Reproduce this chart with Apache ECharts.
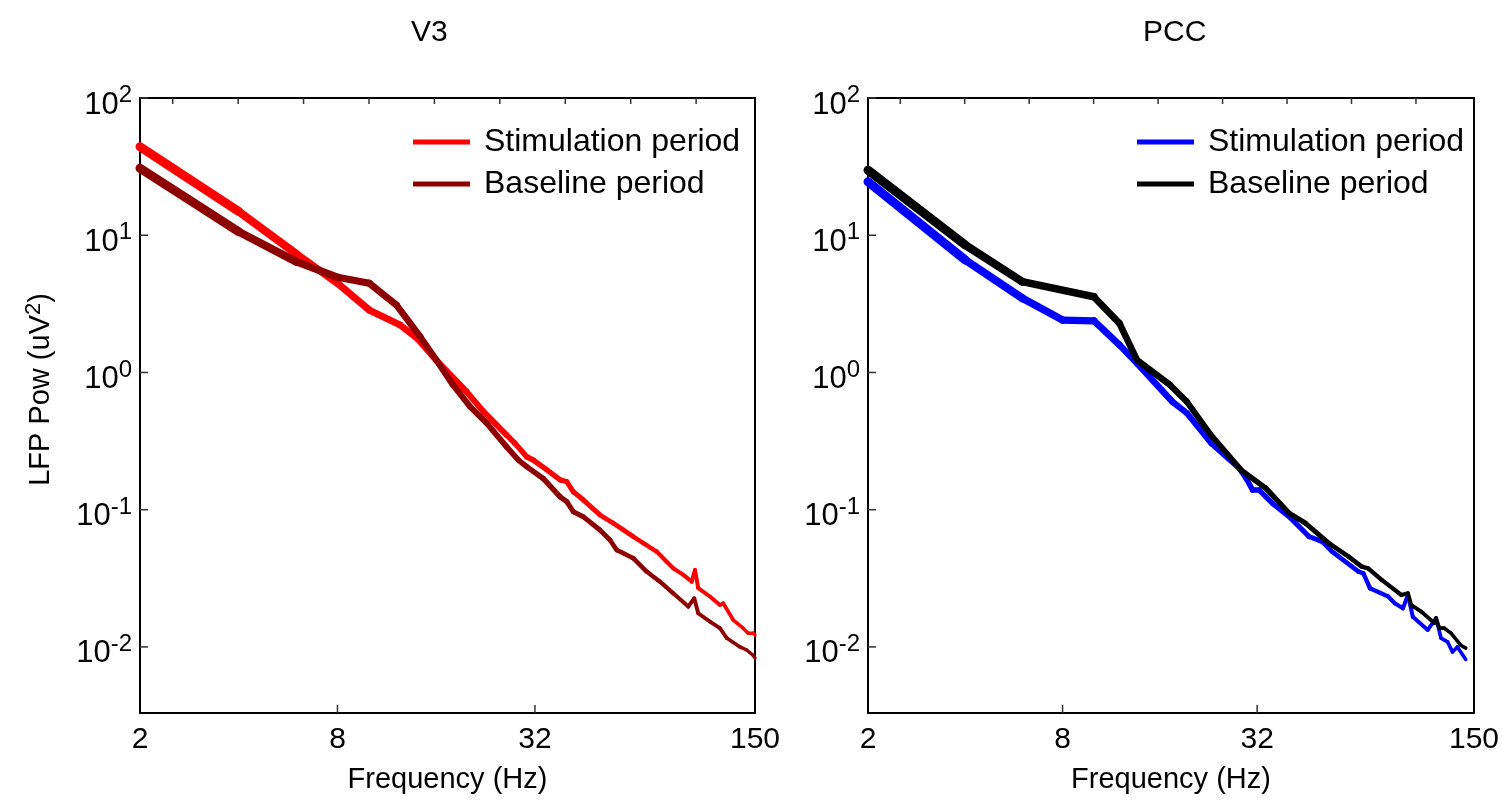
<!DOCTYPE html>
<html>
<head>
<meta charset="utf-8">
<script src="https://cdn.jsdelivr.net/npm/echarts@6/dist/echarts.min.js"></script>
<style>
html, body { margin: 0; padding: 0; background: #fff; }
#chart { width: 1502px; height: 801px; }
</style>
</head>
<body>
<div id="chart"></div>
<script>
// V3 panel (Hz, uV^2)
const v3StimFreq = [2, 4, 6, 8, 10, 12.4, 14, 16, 19.8, 22.3, 26.2, 27.8, 30.2, 31.6, 34.8, 38.2, 40, 41.9, 44.9, 50.5, 55.5, 63.8, 68.5, 75.2, 80.7, 84.5, 90.7, 96.2, 98.4, 100.7, 109.3, 117.3, 120, 128.8, 138, 143, 148, 150]
const v3StimPow = [44.2, 14.9, 7.3, 4.47, 2.85, 2.22, 1.77, 1.23, 0.724, 0.518, 0.351, 0.305, 0.243, 0.230, 0.195, 0.165, 0.160, 0.135, 0.118, 0.0916, 0.0796, 0.0637, 0.0570, 0.0495, 0.0418, 0.0374, 0.0335, 0.0299, 0.0364, 0.0268, 0.0233, 0.0202, 0.0208, 0.0157, 0.0137, 0.0126, 0.0126, 0.0122]
const v3BaseFreq = [2, 4, 6, 8, 10, 12.1, 14.3, 16.4, 18, 20.3, 22.8, 26.2, 28.5, 30.2, 33.9, 38.2, 40, 41.9, 44.9, 50.5, 54.2, 56.8, 63.8, 70.1, 77, 84.5, 93.9, 97.9, 100.7, 109.3, 117.3, 123, 135, 141.5, 148, 150]
const v3BasePow = [30.8, 10.6, 6.4, 4.94, 4.47, 3.1, 1.82, 1.135, 0.811, 0.564, 0.427, 0.288, 0.230, 0.206, 0.169, 0.124, 0.1145, 0.0968, 0.0890, 0.0711, 0.0602, 0.0509, 0.0443, 0.0354, 0.0299, 0.0246, 0.0197, 0.0226, 0.0176, 0.0153, 0.0137, 0.0116, 0.0100, 0.0095, 0.0087, 0.0083]

// PCC panel
const pccStimFreq = [2, 4, 6, 8, 10, 12, 13.6, 17.5, 19.4, 23.1, 28.2, 29.6, 31, 32.5, 34.1, 35.7, 40.2, 46.3, 50.9, 54.6, 65.9, 68.2, 71.5, 81.4, 85.3, 90.4, 93.7, 97, 107.9, 114.5, 118.6, 124.2, 128.7, 133.3, 141.5]
const pccStimPow = [24.5, 6.6, 3.48, 2.41, 2.38, 1.585, 1.167, 0.612, 0.505, 0.305, 0.200, 0.169, 0.139, 0.139, 0.124, 0.111, 0.089, 0.0637, 0.0585, 0.0495, 0.0354, 0.0344, 0.0268, 0.0233, 0.0208, 0.0191, 0.0239, 0.0166, 0.0133, 0.0162, 0.0116, 0.0109, 0.0092, 0.0100, 0.0081]
const pccBaseFreq = [2, 4, 6, 10, 12, 13.6, 17.2, 19.4, 22.8, 28.5, 34.1, 40.2, 45.2, 53.3, 61.4, 67.4, 70.6, 77.7, 89.4, 93.7, 95.9, 103, 113.1, 114.5, 117.2, 121.4, 127.3, 136.5, 141.5]
const pccBasePow = [29.8, 8.49, 4.59, 3.56, 2.28, 1.23, 0.811, 0.612, 0.360, 0.195, 0.143, 0.0942, 0.0796, 0.0570, 0.0455, 0.0385, 0.0374, 0.0308, 0.0239, 0.0246, 0.0202, 0.0181, 0.0149, 0.0162, 0.0137, 0.0137, 0.0126, 0.0103, 0.0098]

const xTicks = [2, 8, 32, 150]
const xInnerTicks = [8, 32]
const yTicks = [0.01, 0.1, 1, 10, 100]
const topTicks = [0.5, 1.5, 2.5, 3.5, 4.5, 5.5, 6.5, 7.5, 8.5]
const panelTitles = ['V3', 'PCC']
const legendNames = ['Stimulation period', 'Baseline period']

// axis ranges
const fMin = 2, fMax = 150
const pMin = 0.0033, pMax = 100

function pairs(xs, ys) {
    return xs.map(function (x, i) { return [x, ys[i]] })
}

const font = '"Liberation Sans", Arial, Helvetica, sans-serif'

function edge() {
    return { show: true, lineStyle: { color: '#000', width: 2 } }
}

function yLabel(v) {
    return '{b|10}{s|' + Math.round(Math.log10(v)) + '}'
}

function xAxisFor(idx) {
    return {
        type: 'log', logBase: 2, gridIndex: idx, min: fMin, max: fMax,
        axisLine: edge(),
        axisTick: { show: false },
        axisLabel: {
            customValues: xTicks, color: '#000', fontSize: 30, fontFamily: font, margin: 12,
            formatter: function (v) { return String(Math.round(v)) }
        },
        splitLine: { show: false },
        name: 'Frequency (Hz)', nameLocation: 'middle', nameGap: 52,
        nameTextStyle: { color: '#000', fontSize: 29, fontFamily: font }
    }
}

// top border of each box, it carries a row of short ticks
function topAxisFor(idx) {
    return {
        type: 'value', gridIndex: idx, position: 'top', min: 0, max: 9.4,
        axisLine: edge(),
        axisTick: { show: false },
        axisLabel: { show: false },
        splitLine: { show: false }
    }
}

function rightAxisFor(idx) {
    return {
        type: 'value', gridIndex: idx, position: 'right', min: 0, max: 1,
        axisLine: edge(),
        axisTick: { show: false },
        axisLabel: { show: false },
        splitLine: { show: false }
    }
}

function yAxisFor(idx, withName) {
    const ax = {
        type: 'log', logBase: 10, gridIndex: idx, min: pMin, max: pMax,
        axisLine: edge(),
        axisTick: { show: false },
        axisLabel: {
            customValues: yTicks, margin: 8, formatter: yLabel, padding: [8, 0, 0, 0],
            rich: {
                b: { fontSize: 31, fontFamily: font, color: '#000', verticalAlign: 'bottom' },
                s: { fontSize: 24, fontFamily: font, color: '#000', verticalAlign: 'bottom', padding: [0, 0, 13, 0] }
            }
        },
        splitLine: { show: false }
    }
    if (withName) {
        ax.name = 'LFP Pow (uV{s|2})'
        ax.nameLocation = 'middle'
        ax.nameGap = 82
        ax.nameTextStyle = {
            color: '#000', fontSize: 29, fontFamily: font, padding: [0, 0, 0, 32],
            rich: { s: { fontSize: 22, fontFamily: font, color: '#000', padding: [0, 0, 13, 0] } }
        }
    }
    return ax
}

function legendFor(left, names) {
    return {
        orient: 'vertical', left: left, top: 124, padding: 0,
        itemWidth: 57, itemHeight: 5, itemGap: 6, icon: 'rect',
        data: names,
        formatter: function (n) { return n.split('|')[1] },
        textStyle: { fontSize: 32, fontFamily: font, color: '#000', lineHeight: 36, padding: [0, 0, 0, 9] }
    }
}

// band thickness of the shaded traces: wide at low frequency, thin at high
function bandWidth(f) {
    return Math.max(3, 9 - 0.9 * Math.log2(f / 2))
}

function bandSeries(name, xi, yi, color, data) {
    return {
        name: name, type: 'custom', xAxisIndex: xi, yAxisIndex: yi,
        data: data, encode: { x: 0, y: 1 },
        itemStyle: { color: color },
        animation: false,
        renderItem: function (params, api) {
            const i = params.dataIndex
            if (i >= data.length - 1) return null
            const p0 = api.coord(data[i])
            const p1 = api.coord(data[i + 1])
            return {
                type: 'line',
                shape: { x1: p0[0], y1: p0[1], x2: p1[0], y2: p1[1] },
                style: { stroke: color, lineWidth: bandWidth(data[i][0]), lineCap: 'round' }
            }
        }
    }
}

// short inward tick marks, placed through the axes' own scales
function tickSeries(xi, yi, data, dx, dy) {
    return {
        type: 'custom', xAxisIndex: xi, yAxisIndex: yi,
        data: data, encode: { x: 0, y: 1 },
        silent: true, animation: false, z: 3,
        renderItem: function (params, api) {
            const p = api.coord(data[params.dataIndex])
            return {
                type: 'line',
                shape: { x1: p[0], y1: p[1], x2: p[0] + dx, y2: p[1] + dy },
                style: { stroke: '#333', lineWidth: 1.5 }
            }
        }
    }
}

function panelTicks(xi, yi, topXi) {
    return [
        tickSeries(xi, yi, xInnerTicks.map(function (f) { return [f, pMin] }), 0, -8),
        tickSeries(xi, yi, yTicks.map(function (p) { return [fMin, p] }), 8, 0),
        tickSeries(topXi, yi, topTicks.map(function (t) { return [t, pMax] }), 0, 6)
    ]
}

const chart = echarts.init(document.getElementById('chart'))
const option = {
    backgroundColor: '#fff',
    animation: false,
    title: [
        { text: panelTitles[0], left: 406, top: 13, textStyle: { fontSize: 30, fontWeight: 'normal', fontFamily: font, color: '#000' } },
        { text: panelTitles[1], left: 1138, top: 13, textStyle: { fontSize: 30, fontWeight: 'normal', fontFamily: font, color: '#000' } }
    ],
    grid: [
        { left: 140, top: 98, width: 615, height: 615, show: false },
        { left: 868, top: 98, width: 612, height: 615, show: false }
    ],
    legend: [
        legendFor(413, ['V3|' + legendNames[0], 'V3|' + legendNames[1]]),
        legendFor(1137, ['PCC|' + legendNames[0], 'PCC|' + legendNames[1]])
    ],
    xAxis: [xAxisFor(0), xAxisFor(1), topAxisFor(0), topAxisFor(1)],
    yAxis: [yAxisFor(0, true), yAxisFor(1, false), rightAxisFor(0), rightAxisFor(1)],
    series: [
        bandSeries('V3|' + legendNames[0], 0, 0, '#ff0000', pairs(v3StimFreq, v3StimPow)),
        bandSeries('V3|' + legendNames[1], 0, 0, '#8c0000', pairs(v3BaseFreq, v3BasePow)),
        bandSeries('PCC|' + legendNames[0], 1, 1, '#0000ff', pairs(pccStimFreq, pccStimPow)),
        bandSeries('PCC|' + legendNames[1], 1, 1, '#000000', pairs(pccBaseFreq, pccBasePow))
    ].concat(panelTicks(0, 0, 2), panelTicks(1, 1, 3))
}
chart.setOption(option)
</script>
</body>
</html>
